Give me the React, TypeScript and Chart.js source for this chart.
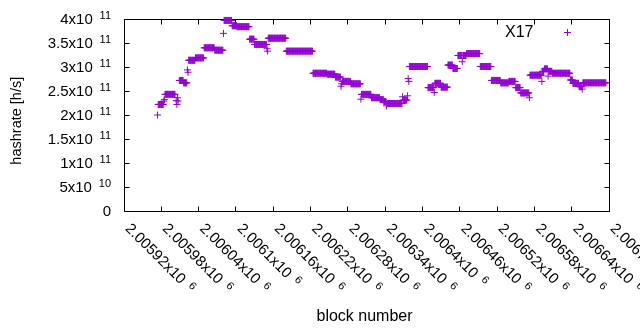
import React, { useEffect, useRef } from "react";
import { Chart, registerables } from "chart.js";

Chart.register(...registerables);

// ---------- data ----------
const seriesName = "X17";
// runs of consecutive blocks sharing the same hashrate (GH/s)
const runStart = [
  2005974, 2005975, 2005984, 2005985, 2005986, 2006004, 2006005, 2006006, 2006007, 2006009,
  2006016, 2006022, 2006023, 2006024, 2006035, 2006049, 2006066, 2006080, 2006081, 2006094,
  2006102, 2006122, 2006130, 2006150, 2006151, 2006152, 2006181, 2006224, 2006247, 2006260,
  2006269, 2006270, 2006271, 2006285, 2006301, 2006302, 2006318, 2006332, 2006338, 2006342,
  2006343, 2006368, 2006369, 2006376, 2006377, 2006378, 2006379, 2006409, 2006419, 2006420,
  2006430, 2006441, 2006449, 2006457, 2006464, 2006465, 2006471, 2006493, 2006511, 2006526,
  2006539, 2006550, 2006558, 2006572, 2006573, 2006592, 2006593, 2006596, 2006602, 2006603,
  2006609, 2006638, 2006642, 2006652, 2006657, 2006658,
];
const runEnd = [
  2005974, 2005983, 2005984, 2005985, 2006002, 2006004, 2006005, 2006006, 2006007, 2006015,
  2006021, 2006022, 2006023, 2006034, 2006048, 2006065, 2006079, 2006080, 2006093, 2006101,
  2006121, 2006129, 2006149, 2006150, 2006151, 2006180, 2006223, 2006246, 2006259, 2006268,
  2006269, 2006270, 2006284, 2006300, 2006301, 2006317, 2006331, 2006337, 2006341, 2006342,
  2006367, 2006368, 2006375, 2006376, 2006377, 2006378, 2006408, 2006418, 2006419, 2006429,
  2006440, 2006448, 2006456, 2006463, 2006464, 2006470, 2006492, 2006510, 2006525, 2006538,
  2006549, 2006557, 2006571, 2006572, 2006591, 2006592, 2006595, 2006601, 2006602, 2006608,
  2006637, 2006641, 2006651, 2006656, 2006657, 2006695,
];
const runHashrateGH = [
  200, 222, 229, 232, 243, 230, 222, 236, 229, 272,
  267, 294, 289, 314, 319, 340, 335, 370, 397, 386,
  384, 358, 347, 338, 333, 360, 333, 287, 285, 279,
  260, 265, 270, 265, 233, 243, 236, 232, 228, 219,
  224, 238, 231, 240, 276, 270, 301, 257, 247, 266,
  258, 304, 297, 324, 311, 324, 328, 301, 272, 267,
  270, 257, 246, 236, 283, 270, 291, 296, 281, 291,
  287, 273, 266, 259, 254, 267,
];

const xMin = 2005920;
const xMax = 2006700;
const yMin = 0;
const yMax = 4e11;

const xTickValues = [
  2005920, 2005980, 2006040, 2006100, 2006160, 2006220, 2006280,
  2006340, 2006400, 2006460, 2006520, 2006580, 2006640, 2006700,
];
const xTickLabels = [
  "2.00592x10^{6}", "2.00598x10^{6}", "2.00604x10^{6}", "2.0061x10^{6}",
  "2.00616x10^{6}", "2.00622x10^{6}", "2.00628x10^{6}", "2.00634x10^{6}",
  "2.0064x10^{6}", "2.00646x10^{6}", "2.00652x10^{6}", "2.00658x10^{6}",
  "2.00664x10^{6}", "2.0067x10^{6}",
];
const yTickValues = [0, 5e10, 1e11, 1.5e11, 2e11, 2.5e11, 3e11, 3.5e11, 4e11];
const yTickLabels = [
  "0", "5x10^{10}", "1x10^{11}", "1.5x10^{11}", "2x10^{11}",
  "2.5x10^{11}", "3x10^{11}", "3.5x10^{11}", "4x10^{11}",
];
const xTitle = "block number";
const yTitle = "hashrate [h/s]";

// ---------- style ----------
const COLOR = "#9400d3";
const FONT = '"Liberation Sans", Arial, sans-serif';
const MAIN_PX = 15;
const SUP_PX = 11;
const SUP_RAISE = 4.7;
const SUP_GAP = 6.8;
const TICK = 5;

function buildPoints() {
  const pts: { x: number; y: number }[] = [];
  for (let i = 0; i < runStart.length; i++) {
    for (let b = runStart[i]; b <= runEnd[i]; b++) {
      pts.push({ x: b, y: runHashrateGH[i] * 1e9 });
    }
  }
  return pts;
}

function splitSup(label: string) {
  const i = label.indexOf("^{");
  if (i < 0) return { base: label, sup: "" };
  return { base: label.slice(0, i), sup: label.slice(i + 2).replace("}", "") };
}

function labelWidth(ctx: CanvasRenderingContext2D, label: string) {
  const { base, sup } = splitSup(label);
  ctx.font = `${MAIN_PX}px ${FONT}`;
  let w = ctx.measureText(base).width;
  if (sup) {
    ctx.font = `${SUP_PX}px ${FONT}`;
    w += SUP_GAP + ctx.measureText(sup).width;
  }
  return w;
}

// draws label with left edge at x, baseline at y
function drawSupLabel(ctx: CanvasRenderingContext2D, label: string, x: number, y: number) {
  const { base, sup } = splitSup(label);
  ctx.textAlign = "left";
  ctx.textBaseline = "alphabetic";
  ctx.font = `${MAIN_PX}px ${FONT}`;
  ctx.fillText(base, x, y);
  const bw = ctx.measureText(base).width;
  if (sup) {
    ctx.font = `${SUP_PX}px ${FONT}`;
    ctx.fillText(sup, x + bw + SUP_GAP, y - SUP_RAISE);
  }
}

const px = (v: number) => Math.floor(v + 1e-6) + 0.5;

const gnuplotLook = {
  id: "gnuplotLook",
  beforeDatasetsDraw(chart: any) {
    const { ctx, chartArea: a, scales } = chart;
    const L = px(a.left), R = px(a.right), T = px(a.top), B = px(a.bottom);
    ctx.save();
    ctx.strokeStyle = "#000";
    ctx.lineWidth = 1;
    ctx.beginPath();
    ctx.rect(L, T, R - L, B - T);
    for (const v of yTickValues) {
      const y = px(scales.y.getPixelForValue(v));
      ctx.moveTo(L, y); ctx.lineTo(L + TICK, y);
      ctx.moveTo(R, y); ctx.lineTo(R - TICK, y);
    }
    for (const v of xTickValues) {
      const x = px(scales.x.getPixelForValue(v));
      ctx.moveTo(x, B); ctx.lineTo(x, B - TICK);
      ctx.moveTo(x, T); ctx.lineTo(x, T + TICK);
    }
    ctx.stroke();
    ctx.restore();
  },
  afterDraw(chart: any) {
    const { ctx, chartArea: a, scales } = chart;
    ctx.save();
    ctx.fillStyle = "#000";
    // y tick labels, right aligned
    yTickValues.forEach((v, i) => {
      const y = scales.y.getPixelForValue(v);
      const w = labelWidth(ctx, yTickLabels[i]);
      drawSupLabel(ctx, yTickLabels[i], 111 - w, y + 5);
    });
    // x tick labels rotated -45 deg (clockwise), starting at tick
    xTickValues.forEach((v, i) => {
      const x = scales.x.getPixelForValue(v);
      ctx.save();
      ctx.translate(x + 0.5, a.bottom + 18.3);
      ctx.rotate(Math.PI / 4);
      drawSupLabel(ctx, xTickLabels[i], 0, 0);
      ctx.restore();
    });
    // axis titles
    ctx.textAlign = "center";
    ctx.textBaseline = "alphabetic";
    ctx.font = `16px ${FONT}`;
    ctx.fillText(xTitle, 364.5, 321);
    ctx.save();
    ctx.font = `14.5px ${FONT}`;
    ctx.translate(20.7, 120.7);
    ctx.rotate(-Math.PI / 2);
    ctx.fillText(yTitle, 0, 0);
    ctx.restore();
    // legend
    ctx.textAlign = "right";
    ctx.font = `16px ${FONT}`;
    ctx.fillText(seriesName, 533.5, 37.3);
    ctx.strokeStyle = COLOR;
    ctx.lineWidth = 1;
    ctx.beginPath();
    ctx.moveTo(567.5 - 3.5, 32.5); ctx.lineTo(567.5 + 3.5, 32.5);
    ctx.moveTo(567.5, 32.5 - 3.5); ctx.lineTo(567.5, 32.5 + 3.5);
    ctx.stroke();
    ctx.restore();
  },
};

export default function App() {
  const ref = useRef<HTMLCanvasElement | null>(null);
  useEffect(() => {
    if (!ref.current) return;
    const chart = new Chart(ref.current, {
      type: "scatter",
      data: {
        datasets: [
          {
            label: seriesName,
            data: buildPoints(),
            pointStyle: "cross",
            pointRadius: 3.5,
            pointBorderWidth: 1,
            borderColor: COLOR,
            backgroundColor: COLOR,
            clip: false as any,
          },
        ],
      },
      options: {
        animation: false,
        responsive: false,
        devicePixelRatio: 1,
        events: [],
        layout: { padding: { left: 0, top: 19, right: 31, bottom: 0 } },
        plugins: { legend: { display: false }, tooltip: { enabled: false } },
        scales: {
          x: {
            type: "linear",
            min: xMin,
            max: xMax,
            ticks: { display: false },
            grid: { display: false },
            border: { display: false },
            afterFit: (s: any) => { s.height = 119; },
          },
          y: {
            type: "linear",
            min: yMin,
            max: yMax,
            ticks: { display: false },
            grid: { display: false },
            border: { display: false },
            afterFit: (s: any) => { s.width = 124; },
          },
        },
      },
      plugins: [gnuplotLook],
    });
    return () => chart.destroy();
  }, []);
  return (
    <div style={{ position: "fixed", left: 0, top: 0, width: 640, height: 330, background: "#fff" }}>
      <canvas ref={ref} width={640} height={330} style={{ display: "block" }} />
    </div>
  );
}
